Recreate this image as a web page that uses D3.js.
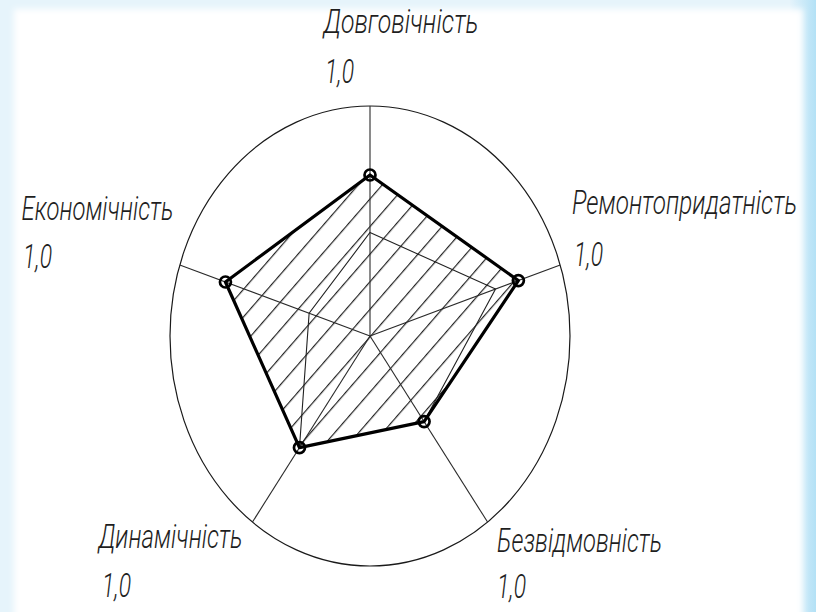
<!DOCTYPE html>
<html><head><meta charset="utf-8">
<script src="https://cdn.jsdelivr.net/npm/d3@7"></script>
<style>html,body{margin:0;padding:0;background:#fff;overflow:hidden}</style>
</head><body>
<svg id="chart" width="816" height="612"></svg>
<script>
// ---- data ----
const categories = ["Довговічність","Ремонтопридатність","Безвідмовність","Динамічність","Економічність"];
const seriesMain = [0.70, 0.78, 0.46, 0.60, 0.76];
const seriesInner = [0.45, 0.66, 0.46, 0.60, 0.32];
const maxTickLabels = ["1,0","1,0","1,0","1,0","1,0"];
const maxValue = 1.0;

// ---- layout ----
const W = 816, H = 612, cx = 370, cy = 336, RX = 200, RY = 230;
const labelLayout = [
  {nx: 323.5, ny: 33,  nw: 155, tx: 325, ty: 83},
  {nx: 572,   ny: 214, nw: 225, tx: 574, ty: 266},
  {nx: 497,   ny: 552, nw: 165, tx: 497, ty: 598},
  {nx: 98.5,  ny: 548, nw: 144, tx: 102, ty: 597},
  {nx: 21.5,  ny: 220, nw: 152, tx: 23,  ty: 268}
];
const tickW = 29;
const fontFam = "Roboto,'Liberation Sans',sans-serif";
const fontSize = 24, vStretch = 1.36;

const svg = d3.select("#chart");
const defs = svg.append("defs");

// background frame
const gR = defs.append("linearGradient").attr("id","gR").attr("x1","0").attr("x2","1").attr("y1","0").attr("y2","0");
gR.append("stop").attr("offset","0").attr("stop-color","#e4f3fb");
gR.append("stop").attr("offset","1").attr("stop-color","#b3e1f6");
svg.append("rect").attr("width",W).attr("height",H).attr("fill","#e6f4fb");
svg.append("rect").attr("x",790).attr("width",26).attr("height",H).attr("fill","url(#gR)");
const blur = defs.append("filter").attr("id","soft").attr("x","-5%").attr("y","-5%").attr("width","110%").attr("height","110%");
blur.append("feGaussianBlur").attr("stdDeviation",3);
svg.append("rect").attr("x",14).attr("y",9).attr("width",789).attr("height",H+20)
  .attr("fill","#fff").attr("filter","url(#soft)");

// scales
const angle = d3.scaleLinear().domain([0, categories.length]).range([0, 2*Math.PI]);
const rX = d3.scaleLinear().domain([0, maxValue]).range([0, RX]);
const rY = d3.scaleLinear().domain([0, maxValue]).range([0, RY]);
const pt = (i, v) => [cx + rX(v)*Math.sin(angle(i)), cy - rY(v)*Math.cos(angle(i))];

const g = svg.append("g");

// hatch pattern
const pat = defs.append("pattern").attr("id","hatch").attr("patternUnits","userSpaceOnUse")
  .attr("width",40).attr("height",18.1).attr("patternTransform","translate("+cx+","+cy+") rotate(-49)");
pat.append("line").attr("x1",0).attr("x2",40).attr("y1",0.6).attr("y2",0.6)
  .attr("stroke","#222").attr("stroke-width",1.1);

// outer ellipse
g.append("ellipse").attr("cx",cx).attr("cy",cy).attr("rx",rX(maxValue)).attr("ry",rY(maxValue))
  .attr("fill","none").attr("stroke","#1a1a1a").attr("stroke-width",1.2);

const line = d3.line().curve(d3.curveLinearClosed);

// hatched area
g.append("path").attr("d", line(seriesMain.map((v,i)=>pt(i,v))))
  .attr("fill","url(#hatch)").attr("stroke","none");

// axes
categories.forEach((c,i)=>{
  const [x,y] = pt(i, maxValue);
  g.append("line").attr("x1",cx).attr("y1",cy).attr("x2",x).attr("y2",y)
    .attr("stroke","#2a2a2a").attr("stroke-width",1.1);
});

// inner series (thin)
g.append("path").attr("d", line(seriesInner.map((v,i)=>pt(i,v))))
  .attr("fill","none").attr("stroke","#222").attr("stroke-width",1.1);

// main series (thick)
g.append("path").attr("d", line(seriesMain.map((v,i)=>pt(i,v))))
  .attr("fill","none").attr("stroke","#000").attr("stroke-width",3.2).attr("stroke-linejoin","round");

g.selectAll("circle.m").data(seriesMain).join("circle").attr("class","m")
  .attr("cx",(v,i)=>pt(i,v)[0]).attr("cy",(v,i)=>pt(i,v)[1]).attr("r",5.5)
  .attr("fill","none").attr("stroke","#000").attr("stroke-width",2.7);

// labels
function label(x, y, txt, w) {
  svg.append("text")
    .attr("transform", "translate(" + x + "," + y + ") scale(1," + vStretch + ")")
    .text(txt)
    .attr("font-family",fontFam).attr("font-style","italic").attr("font-weight",300)
    .attr("font-size",fontSize)
    .attr("fill","#1e1e1e").attr("textLength",w).attr("lengthAdjust","spacingAndGlyphs");
}
categories.forEach((c,i)=>{
  const L = labelLayout[i];
  label(L.nx, L.ny, c, L.nw);
  label(L.tx, L.ty, maxTickLabels[i], tickW);
});
</script>
</body></html>
